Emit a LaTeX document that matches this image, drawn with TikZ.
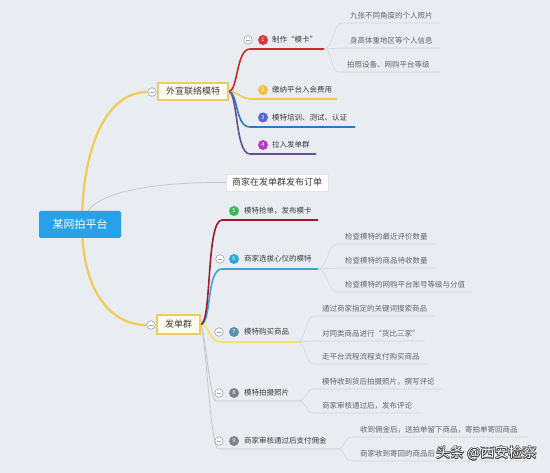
\documentclass[tikz,border=0pt]{standalone}
\usepackage{fontspec}
\setmainfont{Noto Sans CJK SC}
\definecolor{bgc}{HTML}{E9ECF1}
\definecolor{rootc}{HTML}{29A0EA}
\definecolor{txtc}{HTML}{3C3C3C}
\definecolor{subc}{HTML}{62666C}
\definecolor{sublc}{HTML}{D2D6DD}
\definecolor{foldc}{HTML}{9AA0A8}
\definecolor{mainc}{HTML}{F0CB58}
\definecolor{brfill}{HTML}{FFFDF0}
\definecolor{brdraw}{HTML}{EBCB62}
\definecolor{n1c}{HTML}{D8383F}
\definecolor{n2c}{HTML}{F2C23A}
\definecolor{n3c}{HTML}{5468D4}
\definecolor{n4c}{HTML}{B03FC4}
\definecolor{n5c}{HTML}{3DB55A}
\definecolor{n6c}{HTML}{27A9DF}
\definecolor{n7c}{HTML}{5F8FA8}
\definecolor{n8c}{HTML}{7F8489}
\definecolor{c1}{HTML}{C92A2F}
\definecolor{c2}{HTML}{F0C650}
\definecolor{c3}{HTML}{2E78BE}
\definecolor{c4}{HTML}{6B4C8F}
\definecolor{c5}{HTML}{9E1B2A}
\definecolor{c6}{HTML}{3EA4D6}
\definecolor{c7}{HTML}{F3E264}
\definecolor{c8}{HTML}{C2C6CE}
\pgfdeclarelayer{back}
\pgfdeclarelayer{lines}
\pgfsetlayers{back,lines,main}
\newcommand\mysub[6]{% name, origin, x text, y underline, x end, text
  \coordinate (#1l) at (#3-8,#4);
  \coordinate (#1r) at (#5,#4);
  \node[sub] (#1) at (#3,#4-4.6) {#6};
  \begin{pgfonlayer}{lines}
    \draw[subline] (#2) .. controls +(9,0) and +(-9,0) .. (#1l) -- (#1r);
  \end{pgfonlayer}}
\begin{document}
\begin{tikzpicture}[x=1pt,y=-1pt,
  every node/.style={inner sep=0pt},
  lbl/.style={anchor=base west, font=\fontsize{7.5}{9}\selectfont, text=txtc},
  sub/.style={anchor=base west, font=\fontsize{7.5}{9}\selectfont, text=subc},
  badge/.style={circle, minimum size=10pt, font=\fontsize{5.5}{6}\selectfont, text=white},
  fold/.style={circle, draw=foldc, fill=white, line width=0.6pt, minimum size=8.5pt,
    path picture={\draw[foldc,line width=0.6pt] ([xshift=-2.3pt]path picture bounding box.center) -- ([xshift=2.3pt]path picture bounding box.center);}},
  subline/.style={draw=sublc, line width=0.6pt},
  mainline/.style={draw=mainc, line width=2.2pt},
  chline/.style={line width=1.6pt},
  grline/.style={draw=c8, line width=0.8pt},
  root/.style={fill=rootc, rounded corners=2pt, minimum width=82pt, minimum height=27pt, text=white, font=\fontsize{11}{13}\selectfont},
  branch/.style={fill=brfill, draw=brdraw, line width=1.2pt, text=txtc, font=\fontsize{9}{11}\selectfont},
  plainbox/.style={fill=white, draw=white!90!black, line width=0.3pt, text=txtc, font=\fontsize{9}{11}\selectfont, minimum width=102pt, minimum height=17pt},
  wm/.style={anchor=base west, font=\fontsize{14}{16}\selectfont},
]
\begin{pgfonlayer}{back}
\fill[bgc] (0,0) rectangle (550,473);
\end{pgfonlayer}
\useasboundingbox (0,0) rectangle (550,473);

% root and branches
\node[root] (root) at (80,224.5) {某网拍平台};
\node[branch, minimum width=70pt, minimum height=17pt] (b1) at (193,91.5) {外宣联络模特};
\node[fold] (f1) at (152,92) {};
\node[branch, minimum width=43pt, minimum height=19pt] (b2) at (178.5,324.5) {发单群};
\node[fold] (f2) at (151,325) {};
\node[plainbox] (n0) at (277,182.5) {商家在发单群发布订单};

\begin{pgfonlayer}{lines}
\draw[mainline] ([xshift=2pt]root.center) .. controls (82,150) and (105,92) .. (f1.west);
\draw[mainline] ([xshift=2pt]root.center) .. controls (82,290) and (110,325) .. (f2.west);
\draw[grline, line width=0.7pt] ([xshift=8pt]root.north) .. controls (105,188) and (170,182) .. (n0.west);
\end{pgfonlayer}

% branch 1 children
\coordinate (u1e) at (324,49);
\coordinate (u2e) at (337,99);
\coordinate (u3e) at (355,127);
\coordinate (u4e) at (316,154);
\node[fold] (f11) at (248,40) {};
\node[badge, fill=n1c] (n1) at (263,40) {1};
\node[lbl] (t1) at (272,42.7) {制作“模卡”};
\node[badge, fill=n2c] (n2) at (263,90) {2};
\node[lbl] (t2) at (272,92.7) {缴纳平台入会费用};
\node[badge, fill=n3c] (n3) at (263,117.5) {3};
\node[lbl] (t3) at (272,120.2) {模特培训、测试、认证};
\node[badge, fill=n4c] (n4) at (263,145) {4};
\node[lbl] (t4) at (272,147.7) {拉入发单群};
\begin{pgfonlayer}{lines}
\draw[chline, draw=c2] (b1.east) .. controls (240,92) and (240,99) .. (252,99) -- (u2e);
\draw[chline, draw=c4] (b1.east) .. controls (238,92) and (235,154) .. (250,154) -- (u4e);
\draw[chline, draw=c3] (b1.east) .. controls (238,92) and (235,127) .. (250,127) -- (u3e);
\draw[chline, draw=c1] (b1.east) .. controls (238,92) and (236,49) .. (250,49) -- (u1e);
\end{pgfonlayer}
\mysub{s11}{u1e}{350}{23}{440}{九张不同角度的个人照片}
\mysub{s12}{u1e}{350}{48}{440}{身高体重地区等个人信息}
\mysub{s13}{u1e}{347}{72}{440}{拍照设备、网购平台等级}

% branch 2 children
\coordinate (u5e) at (318,220);
\coordinate (u6e) at (318,269);
\coordinate (u7e) at (297,342);
\coordinate (u8e) at (298,401);
\coordinate (u9e) at (337,449);
\node[badge, fill=n5c] (n5) at (234,211) {5};
\node[lbl] (t5) at (244,213.7) {模特抢单，发布模卡};
\node[fold] (f6) at (220,259) {};
\node[badge, fill=n6c] (n6) at (234,259) {6};
\node[lbl] (t6) at (244,261.7) {商家选拔心仪的模特};
\node[fold] (f7) at (219,332) {};
\node[badge, fill=n7c] (n7) at (234,332) {7};
\node[lbl] (t7) at (244,334.7) {模特购买商品};
\node[fold] (f8) at (219,393) {};
\node[badge, fill=n8c] (n8) at (234,393) {8};
\node[lbl] (t8) at (244,395.7) {模特拍摄照片};
\node[fold] (f9) at (219,441) {};
\node[badge, fill=n8c] (n9) at (234,441) {9};
\node[lbl] (t9) at (244,443.7) {商家审核通过后支付佣金};
\begin{pgfonlayer}{lines}
\draw[grline] (b2.east) .. controls (206,335) and (210,445) .. (218,449) -- (u9e);
\draw[grline] (b2.east) .. controls (206,335) and (209,396) .. (216,401) -- (u8e);
\draw[chline, draw=c7] (b2.east) .. controls (210,324) and (208,342) .. (222,342) -- (u7e);
\draw[chline, draw=c6] (b2.east) .. controls (212,324) and (206,269) .. (222,269) -- (u6e);
\draw[chline, draw=c5] (b2.east) .. controls (212,324) and (206,220) .. (222,220) -- (u5e);
\end{pgfonlayer}
\mysub{s61}{u6e}{345}{244}{436}{检查模特的最近评价数量}
\mysub{s62}{u6e}{345}{268}{436}{检查模特的商品待收数量}
\mysub{s63}{u6e}{345}{292}{472}{检查模特的网购平台账号等级与分值}
\mysub{s71}{u7e}{322}{316}{435}{通过商家指定的关键词搜索商品}
\mysub{s72}{u7e}{322}{341}{425}{对同类商品进行“货比三家”}
\mysub{s73}{u7e}{322}{364}{428}{走平台流程流程支付购买商品}
\mysub{s81}{u8e}{322}{389}{442}{模特收到货后拍摄照片，撰写评论}
\mysub{s82}{u8e}{322}{413}{420}{商家审核通过后，发布评论}
\mysub{s91}{u9e}{360}{437}{528}{收到佣金后，送拍单留下商品，寄拍单寄回商品}
\mysub{s92}{u9e}{360}{461}{528}{商家收到寄回的商品后}

% watermark
\foreach \dx/\dy [count=\i] in {-0.7/0,0.7/0,0/-0.7,0/0.7,-0.5/-0.5,0.5/0.5,-0.5/0.5,0.5/-0.5}
  \node[wm, text=black!75] (wmshadow\i) at (436+\dx,458+\dy) {头条 @西安检察};
\node[wm, text=white] (wm) at (436,458) {头条 @西安检察};
\end{tikzpicture}
\end{document}
